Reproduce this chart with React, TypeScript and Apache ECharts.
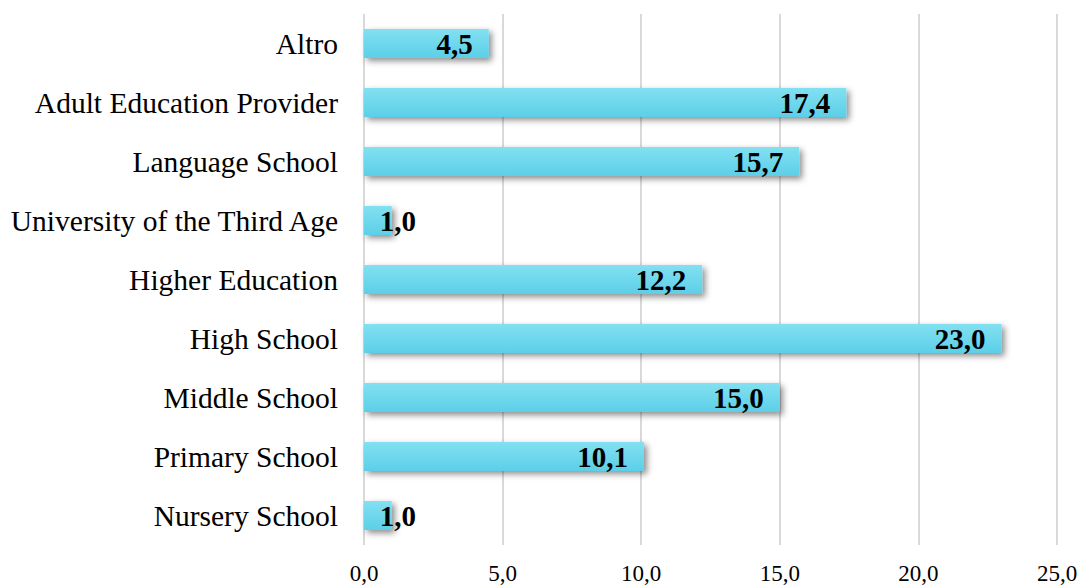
import React, { useEffect, useRef } from "react";
import * as echarts from "echarts";

const categories = [
  "Nursery School",
  "Primary School",
  "Middle School",
  "High School",
  "Higher Education",
  "University of the Third Age",
  "Language School",
  "Adult Education Provider",
  "Altro",
];
const values = [1.0, 10.1, 15.0, 23.0, 12.2, 1.0, 15.7, 17.4, 4.5];
const xTicks = [0, 5, 10, 15, 20, 25];

const FONT = "'Liberation Serif', 'Times New Roman', serif";

export default function App() {
  const ref = useRef<HTMLDivElement>(null);
  useEffect(() => {
    if (!ref.current) return;
    const chart = echarts.init(ref.current, null, { renderer: "svg" });
    const data = values.map((v) => {
      const item: any = { value: v };
      if (v < 3) {
        item.label = { position: "right", distance: 0, offset: [-12, 0] };
      }
      return item;
    });
    chart.setOption({
      animation: false,
      backgroundColor: "#ffffff",
      grid: { left: 364, right: 25, top: 14, bottom: 40, containLabel: false },
      xAxis: {
        type: "value",
        min: xTicks[0],
        max: xTicks[xTicks.length - 1],
        interval: 5,
        axisLine: { show: false },
        axisTick: { show: false },
        splitLine: { show: true, lineStyle: { color: "#d9d9d9", width: 2 } },
        axisLabel: {
          margin: 17,
          fontFamily: FONT,
          fontSize: 23,
          color: "#000",
          formatter: (v: number) => v.toFixed(1).replace(".", ","),
        },
      },
      yAxis: {
        type: "category",
        data: categories,
        axisLine: { show: false },
        axisTick: { show: false },
        splitLine: { show: false },
        axisLabel: {
          margin: 26,
          fontFamily: FONT,
          fontSize: 29.5,
          color: "#000",
        },
      },
      series: [
        {
          type: "bar",
          data,
          barWidth: 29,
          itemStyle: {
            color: new echarts.graphic.LinearGradient(0, 0, 0, 1, [
              { offset: 0, color: "#82e0f1" },
              { offset: 1, color: "#5ccfe8" },
            ]),
            shadowColor: "rgba(0,0,0,0.45)",
            shadowBlur: 6,
            shadowOffsetX: 3,
            shadowOffsetY: 3,
          },
          label: {
            show: true,
            position: "insideRight",
            distance: 16,
            fontFamily: FONT,
            fontWeight: "bold",
            fontSize: 29,
            color: "#000",
            formatter: (p: any) => Number(p.value).toFixed(1).replace(".", ","),
          },
        },
      ],
    });
    return () => chart.dispose();
  }, []);
  return (
    <div
      ref={ref}
      style={{ position: "fixed", left: 0, top: 0, width: 1082, height: 585 }}
    />
  );
}
